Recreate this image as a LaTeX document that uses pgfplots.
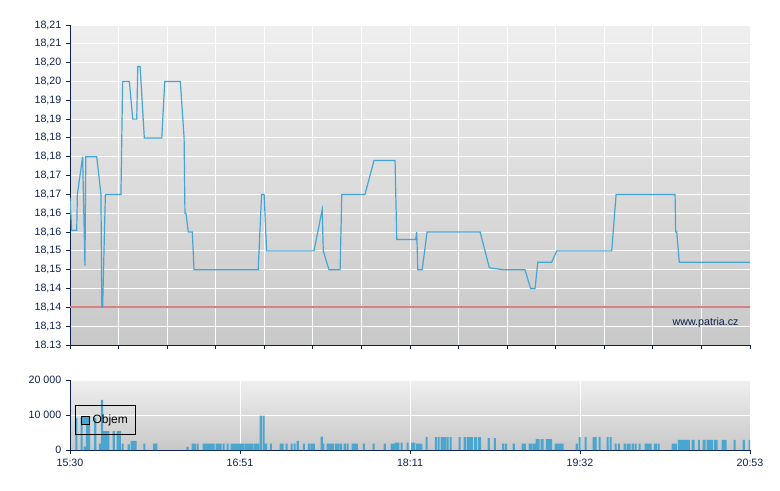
\documentclass[border=0pt]{standalone}
\usepackage{fontspec}
\setmainfont{Liberation Sans}
\usepackage{pgfplots}
\pgfplotsset{compat=1.18}

\definecolor{navy}{HTML}{0C2150}
\definecolor{pricecol}{HTML}{45A5D5}
\definecolor{barcol}{HTML}{4AA6CF}
\definecolor{bgtop}{HTML}{EFEFEF}
\definecolor{bgbot}{HTML}{C8C8C8}

\pgfplotsset{
  patria/.style={
    scale only axis,
    width=510pt,
    xmin=0, xmax=323,
    axis x line*=bottom,
    axis y line*=left,
    axis line style={navy, line width=0.75pt, -},
    tick align=outside,
    major tick length=3pt,
    tick style={navy, line width=0.75pt},
    grid=major,
    major grid style={white, line width=0.75pt},
    ticklabel style={font=\fontsize{8}{9}\selectfont, text=navy},
    axis background/.style={top color=bgtop, bottom color=bgbot},
    scaled ticks=false,
  }
}

\begin{document}
\begin{tikzpicture}
\path[use as bounding box] (0pt,0pt) rectangle (585pt,367.5pt);

% price
\begin{axis}[patria,
  at={(52.5pt,108.75pt)}, anchor=south west,
  height=240pt,
  ymin=18.125, ymax=18.21,
  ytick={18.125,18.13,18.135,18.14,18.145,18.15,18.155,18.16,18.165,18.17,18.175,18.18,18.185,18.19,18.195,18.2,18.205,18.21},
  yticklabels={18.13,{18,13},{18,14},{18,14},{18,15},{18,15},{18,16},{18,16},{18,17},{18,17},{18,18},{18,18},{18,19},{18,19},{18,20},{18,20},{18,21},{18,21}},
  xtick={0,23.071,46.143,69.214,92.286,115.357,138.429,161.5,184.571,207.643,230.714,253.786,276.857,299.929,323},
  xticklabels={},
]
\addplot[draw={rgb,255:red,214;green,128;blue,128}, line width=1.3pt] coordinates {(0,18.135) (323,18.135)};
\addplot[pricecol, line width=0.9pt] coordinates {
(0,18.164) (0.8,18.1555) (3.2,18.1555) (3.5,18.165) (6.0,18.175) (7.1,18.146)
(7.5,18.175) (12.7,18.175) (14.7,18.165) (15.1,18.135) (15.5,18.135) (16.8,18.165)
(24.2,18.165) (25.0,18.195) (28.2,18.195) (29.8,18.185) (31.7,18.185) (32.2,18.199)
(33.3,18.199) (35.3,18.18) (43.6,18.18) (45.0,18.195) (52.4,18.195) (54.2,18.18)
(54.6,18.16) (55.1,18.16) (56.2,18.155) (58.1,18.155) (58.9,18.145) (89.4,18.145)
(91.0,18.165) (92.2,18.165) (93.4,18.15) (115.9,18.15) (119.8,18.161) (120.3,18.15)
(123.0,18.145) (128.3,18.145) (129.1,18.165) (140.1,18.165) (144.4,18.174) (154.4,18.174)
(155.2,18.153) (164.2,18.153) (164.7,18.155) (165.2,18.145) (167.3,18.145) (169.6,18.155)
(194.8,18.155) (199.2,18.1455) (205.8,18.145) (216.1,18.145) (218.8,18.14) (220.9,18.14)
(222.2,18.147) (228.8,18.147) (231.2,18.15) (257.3,18.15) (259.4,18.165) (287.4,18.165)
(287.7,18.155) (288.2,18.155) (289.4,18.147) (323,18.147)
};
\node[anchor=east, font=\fontsize{8}{9}\selectfont, text=navy] at (rel axis cs:0.99,0.069) {www.patria.cz};
\end{axis}

% volume
\begin{axis}[patria,
  at={(52.5pt,30pt)}, anchor=south west,
  height=52.5pt,
  ymin=0, ymax=20000,
  ytick={0,10000,20000},
  yticklabels={0,10 000,20 000},
  xtick={0,80.75,161.5,242.25,323},
  xticklabels={15:30,16:51,18:11,19:32,20:53},
  legend style={at={(0.0074,0.643)}, anchor=north west, draw=black, fill=none,
    line width=0.75pt, font=\fontsize{9}{10}\selectfont, inner xsep=4pt, inner ysep=5pt},
  legend image code/.code={\draw[fill=barcol, draw=black, line width=0.75pt] (0pt,-3pt) rectangle (6pt,3pt);},
]
\addplot[ybar, bar width=1, bar shift=0pt, fill=barcol, draw=none] coordinates {
(3,9100) (5.5,9100) (7,950) (8,9100) (9,9100) (12,9200) (14.2,1800) (15.2,14300)
(16.2,5400) (17.2,5400) (18.2,5400) (20.8,5400) (22.7,5400) (23.7,5400) (25,1800)
(27.9,1600) (29.3,2600) (30.3,2600) (31.2,2600) (35.3,1800) (40,1800) (41,1800)
(55.8,900) (58.3,1800) (59.3,1800) (60.6,1800) (63.5,1800) (64.5,1800) (65.5,1800)
(66.5,1800) (67.5,1800) (68.2,1800) (69.7,1800) (70.7,1800) (71.5,1800) (73,1800)
(74.9,1800) (76.8,1800) (77.3,1800) (78.3,1800) (79.3,1800) (80.3,1800) (81.3,1800)
(82.2,1800) (83.5,1800) (84.5,1800) (85.5,1800) (86.6,1800) (87.8,1800) (88.8,1800)
(89.3,1800) (90.6,9800) (92,9800) (93.1,1800) (95.4,1800) (100.1,1800) (101,1800)
(102.9,1800) (105.3,1800) (106.7,1800) (108.2,2600) (111.1,1800) (113.5,1800)
(114.8,1800) (115.8,1800) (119.6,3800) (120.3,1800) (122.4,1800) (123.4,1800)
(124.4,1800) (124.9,1800) (126.4,1800) (127.4,1800) (128.7,1800) (130.5,1800)
(131.9,1800) (134.3,1800) (135.3,1800) (136.2,1800) (139.6,1800) (144.2,1800)
(149.5,1800) (152.8,1800) (153.8,1800) (154.9,2100) (155.9,2100) (157.5,2100)
(160.4,2100) (162.5,2100) (163.6,2100) (164.9,1800) (165.9,1800) (166.9,1800)
(169.4,3700) (173.8,3700) (175.1,3700) (176.6,3700) (177.6,3700) (178.1,3700)
(179.4,3700) (180.8,3700) (185.1,3700) (187.5,3700) (188.9,3700) (189.9,3700)
(190.9,3700) (192.4,3700) (192.9,3700) (194.3,3700) (194.8,3700) (198.9,3400)
(201.8,3400) (205.7,1800) (207.1,1800) (210.8,1800) (215,1800) (216,1800)
(218.4,1800) (219,1800) (220.3,1800) (220.7,1800) (221.7,3100) (222.6,3100)
(224.1,3100) (224.5,3100) (226.5,3100) (227.5,3100) (228.5,3100) (230.7,1800)
(231.7,1800) (232.7,1800) (233.7,1800) (234,1800) (240.7,1800) (242.1,3700)
(244.9,3700) (248.8,3700) (249.6,3700) (251.6,3700) (255.4,3700) (256.8,3700)
(259.2,1800) (260.7,1800) (263.5,1800) (264.9,1800) (265.8,1800) (267.3,1800)
(268.7,1800) (270.6,1800) (273.5,1800) (274.5,1800) (275.5,1800) (275.8,1800)
(277.8,1800) (278.2,1800) (279.6,1800) (286.3,1800) (287.3,1800) (287.7,1800)
(289.2,2900) (290.2,2900) (291.2,2900) (292.2,2900) (293.2,2900) (293.9,2900)
(295.8,2900) (296.2,2900) (298.7,2900) (301,2900) (301.4,2900) (302.9,2900)
(303.9,2900) (304.8,2900) (306.3,2900) (307.1,2900) (310,2900) (311,2900)
(311.4,2900) (315.7,2900) (320,2900) (322.8,2900)
};
\addlegendentry{Objem}
\end{axis}
\end{tikzpicture}
\end{document}
